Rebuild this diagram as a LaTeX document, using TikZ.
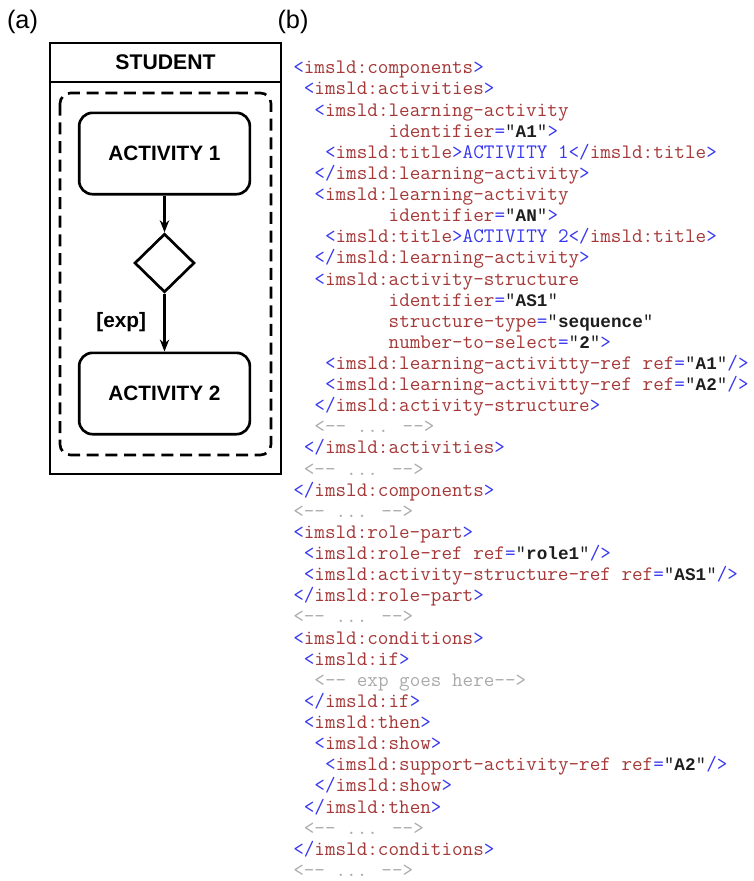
\documentclass[tikz,border=0pt]{standalone}
\usepackage{fontspec}
\setmainfont{Liberation Sans}
\newfontfamily\codefont{Latin Modern Mono}[Ligatures=TeXOff]
\newfontfamily\valfont{Liberation Mono}[Ligatures=TeXOff]
\usetikzlibrary{positioning,shapes.geometric,arrows.meta}

\definecolor{tagred}{RGB}{165,55,55}
\definecolor{tagblue}{RGB}{55,55,240}
\definecolor{cmtgray}{RGB}{170,170,170}
\definecolor{valblack}{RGB}{30,30,30}

% pieces of the xml listing
\newcommand{\xt}[1]{\textcolor{tagred}{#1}}
\newcommand{\xb}[1]{\textcolor{tagblue}{#1}}
\newcommand{\xv}[1]{\textcolor{valblack}{\valfont\fontsize{13.25}{15}\selectfont\bfseries #1}}
\newcommand{\xc}[1]{\textcolor{cmtgray}{#1}}
\newcommand{\xopen}[1]{\xb{<}\xt{#1}\xb{>}}
\newcommand{\xclose}[1]{\xb{</}\xt{#1}\xb{>}}
\newcommand{\xattr}[2]{\xt{#1}\xb{=}\textcolor{valblack}{"}\xv{#2}\textcolor{valblack}{"}}

\tikzset{
  activity/.style={draw, line width=2pt, rounded corners=10pt,
    minimum width=128pt, minimum height=61pt,
    font=\fontsize{15.6}{18}\selectfont\bfseries},
  decision/.style={draw, diamond, line width=2pt, inner sep=0pt,
    minimum width=45pt, minimum height=44pt},
  codeline/.style={anchor=base west, inner sep=0pt,
    font=\codefont\fontsize{15.42}{17}\selectfont},
  panel/.style={font=\fontsize{19}{22}\selectfont}
}

\begin{document}
\begin{tikzpicture}[x=0.75pt, y=-0.75pt, >={Stealth[length=9pt,width=7pt]}]
  \useasboundingbox (0,0) rectangle (753,881);

  \node[panel] (pa) at (22.5,22) {(a)};
  \node[panel] (pb) at (293,22) {(b)};

  % (a) swimlane
  \draw[line width=1pt] (50,43) rectangle (281,474);
  \draw[line width=1pt] (50,82) -- (281,82);
  \node[font=\fontsize{15.9}{18}\selectfont\bfseries] (lane) at (165.5,62.5) {STUDENT};
  \draw[line width=2pt, dash pattern=on 9pt off 5pt, rounded corners=8pt]
    (60,93) rectangle (271,455);

  \node[activity] (act1) at (164.5,153.5) {ACTIVITY 1};
  \node[decision] (dec) at (164.5,263) {};
  \node[activity] (act2) at (164.5,393.5) {ACTIVITY 2};

  \draw[->, line width=1.6pt] (act1) -- (dec);
  \draw[->, line width=1.6pt] (dec) -- (act2)
    node[midway, left=13pt, inner sep=0pt,
      font=\fontsize{15.6}{18}\selectfont\bfseries] (guard) {[exp]};

  % (b) listing
  \foreach \ind/\txt [count=\n] in {
    0/{\xopen{imsld:components}},
    1/{\xopen{imsld:activities}},
    2/{\xb{<}\xt{imsld:learning-activity}},
    9/{\xattr{identifier}{A1}\xb{>}},
    3/{\xopen{imsld:title}\xb{ACTIVITY 1}\xclose{imsld:title}},
    2/{\xclose{imsld:learning-activity}},
    2/{\xb{<}\xt{imsld:learning-activity}},
    9/{\xattr{identifier}{AN}\xb{>}},
    3/{\xopen{imsld:title}\xb{ACTIVITY 2}\xclose{imsld:title}},
    2/{\xclose{imsld:learning-activity}},
    2/{\xb{<}\xt{imsld:activity-structure}},
    9/{\xattr{identifier}{AS1}},
    9/{\xattr{structure-type}{sequence}},
    9/{\xattr{number-to-select}{2}\xb{>}},
    3/{\xb{<}\xt{imsld:learning-activitty-ref} \xattr{ref}{A1}\xb{/>}},
    3/{\xb{<}\xt{imsld:learning-activitty-ref} \xattr{ref}{A2}\xb{/>}},
    2/{\xclose{imsld:activity-structure}},
    2/{\xc{<-- ... -->}},
    1/{\xclose{imsld:activities}},
    1/{\xc{<-- ... -->}},
    0/{\xclose{imsld:components}},
    0/{\xc{<-- ... -->}},
    0/{\xopen{imsld:role-part}},
    1/{\xb{<}\xt{imsld:role-ref} \xattr{ref}{role1}\xb{/>}},
    1/{\xb{<}\xt{imsld:activity-structure-ref} \xattr{ref}{AS1}\xb{/>}},
    0/{\xclose{imsld:role-part}},
    0/{\xc{<-- ... -->}},
    0/{\xopen{imsld:conditions}},
    1/{\xopen{imsld:if}},
    2/{\xc{<-- exp goes here-->}},
    1/{\xclose{imsld:if}},
    1/{\xopen{imsld:then}},
    2/{\xopen{imsld:show}},
    3/{\xb{<}\xt{imsld:support-activity-ref} \xattr{ref}{A2}\xb{/>}},
    2/{\xclose{imsld:show}},
    1/{\xclose{imsld:then}},
    1/{\xc{<-- ... -->}},
    0/{\xclose{imsld:conditions}},
    0/{\xc{<-- ... -->}}}
    \node[codeline] (l\n) at ({293+\ind*10.6},{73.8+(\n-1)*21.12}) {\txt};
\end{tikzpicture}
\end{document}
